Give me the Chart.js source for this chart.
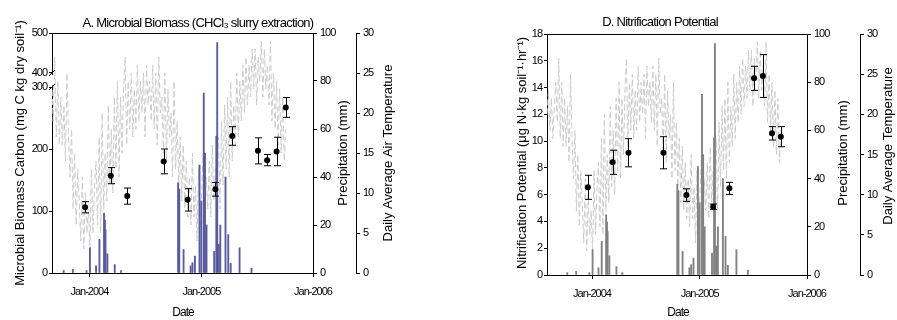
<!DOCTYPE html>
<html>
<head>
<meta charset="utf-8">
<script src="https://cdn.jsdelivr.net/npm/chart.js@4.4.1/dist/chart.umd.min.js"></script>
<style>
  html, body { margin: 0; padding: 0; background: #fff; }
  #wrap { position: relative; width: 897px; height: 320px; }
  canvas { position: absolute; top: 0; }
  #chartA { left: 0; }
  #chartD { left: 448px; }
</style>
</head>
<body>
<div id="wrap">
  <canvas id="chartA" width="448" height="320"></canvas>
  <canvas id="chartD" width="449" height="320"></canvas>
</div>
<script>
// soil sampling dates and measured values
const sampleDates = ["2003-12-18", "2004-03-11", "2004-05-04", "2004-08-31", "2004-11-17",
    "2005-02-16", "2005-04-12", "2005-07-05", "2005-08-04", "2005-09-04", "2005-10-04"];
const biomass = [106, 157, 124, 180, 118, 135, 221, 197, 182, 196, 267];
const biomassErr = [9, 13, 13, 20, 18, 11, 15, 21, 9, 23, 16];
const nitrification = [6.55, 8.42, 9.13, 9.13, 5.97, 5.1, 6.47, 14.69, 14.86, 10.58, 10.33];
const nitrificationErr = [0.9, 0.9, 1.05, 1.2, 0.47, 0.2, 0.45, 0.9, 1.6, 0.5, 0.75];

// daily precipitation (only rainy days shown)
const rainDates = ["2003-10-09", "2003-11-08", "2003-12-23", "2004-01-03", "2004-01-23", "2004-02-03",
    "2004-02-18", "2004-02-21", "2004-02-23", "2004-02-29", "2004-03-24", "2004-04-13",
    "2004-10-17", "2004-10-21", "2004-11-04", "2004-11-27", "2004-12-03", "2004-12-11",
    "2004-12-26", "2005-01-01", "2005-01-09", "2005-01-13", "2005-01-18", "2005-02-12",
    "2005-02-19", "2005-02-22", "2005-02-27", "2005-03-04", "2005-03-21", "2005-03-30",
    "2005-04-07", "2005-05-06", "2005-06-14"];
const rainMm = [1, 1.5, 1, 10.5, 3, 14,
    25, 22, 18, 8, 3.5, 1,
    37.6, 35, 9.8, 3, 4.3, 7,
    45, 30, 75, 50, 20, 9,
    57, 96, 12, 20, 40, 16,
    4, 10.5, 2];

// air temperature, one reading every 5 days from tempStart
const tempStart = "2003-08-01";
const tempStepDays = 5;
const tempC = [
    20, 23, 18, 22, 17, 21,
    24, 19, 27, 17, 24, 16,
    22, 16, 21, 14, 25, 17,
    12, 18, 8, 15, 6, 13,
    9, 4, 12, 3, 10, 5,
    8, 3, 13, 5, 11, 14,
    6, 17, 5, 20, 8, 15,
    9, 21, 11, 18, 10, 22,
    13, 24, 12, 22, 15, 23,
    27, 16, 24, 18, 25, 17,
    23, 18, 26, 19, 24, 20,
    25, 17, 26, 21, 24, 19,
    26, 18, 25, 16, 27, 20,
    22, 15, 25, 14, 23, 17,
    20, 12, 24, 13, 19, 11,
    17, 9, 16, 8, 14, 7,
    12, 6, 15, 7, 11, 4,
    13, 5, 10, 15, 6, 12,
    8, 14, 7, 16, 9, 13,
    10, 17, 8, 19, 11, 21,
    13, 22, 12, 24, 14, 21,
    16, 25, 17, 24, 19, 26,
    20, 27, 21, 26, 22, 28,
    23, 28, 21, 27, 24, 29,
    22, 28, 23, 26, 21, 29,
    19, 25, 18, 24, 16, 23,
    15, 22, 14, 18
];

const yearTicks = ["2004-01-01", "2005-01-01", "2006-01-01"];
const yearLabels = ["Jan-2004", "Jan-2005", "Jan-2006"];
const biomassTicks = [0, 100, 200, 300, 400, 500];

const FONT = 'Arial, "Liberation Sans", sans-serif';
const tickFont = { family: FONT, size: 11 };

function dayNum(s) {
    const p = s.split("-");
    return Date.UTC(+p[0], +p[1] - 1, +p[2]) / 86400000;
}

// left axis of panel A is broken between 300 and 400
function breakValue(v) {
    if (v <= 300) return v;
    return 322.6 + (v - 400) * 0.645;
}

function tempPoints() {
    const t0 = dayNum(tempStart);
    return tempC.map((t, i) => ({ x: t0 + i * tempStepDays, y: t }));
}

function rainPoints() {
    return rainDates.map((d, i) => ({ x: dayNum(d), y: rainMm[i] }));
}

function drawText(ctx, text, x, y, rot, size, spacing) {
    ctx.save();
    ctx.translate(x, y);
    ctx.rotate(rot);
    ctx.font = size + "px " + FONT;
    ctx.letterSpacing = spacing;
    ctx.fillStyle = "#000";
    ctx.textAlign = "center";
    ctx.textBaseline = "middle";
    ctx.fillText(text, 0, 0);
    ctx.restore();
}

const panelPlugin = {
    id: "panel",
    beforeDraw(chart) {
        chart.ctx.letterSpacing = "-1px";
    },
    afterDatasetsDraw(chart, args, o) {
        const ctx = chart.ctx;
        const xs = chart.scales.x;
        const ys = chart.scales.y;
        ctx.save();
        ctx.strokeStyle = "#000";
        ctx.lineWidth = 1;
        sampleDates.forEach((d, i) => {
            const x = Math.round(xs.getPixelForValue(dayNum(d))) + 0.5;
            const top = ys.getPixelForValue(o.values[i] + o.errors[i]);
            const bot = ys.getPixelForValue(o.values[i] - o.errors[i]);
            ctx.beginPath();
            ctx.moveTo(x, top); ctx.lineTo(x, bot);
            ctx.moveTo(x - 3.5, top); ctx.lineTo(x + 3.5, top);
            ctx.moveTo(x - 3.5, bot); ctx.lineTo(x + 3.5, bot);
            ctx.stroke();
        });
        ctx.restore();
    },
    afterDraw(chart, args, o) {
        const ctx = chart.ctx;
        const a = chart.chartArea;
        ctx.save();
        ctx.strokeStyle = "#000";
        ctx.lineWidth = 1;
        ctx.beginPath();
        ctx.moveTo(a.left, Math.round(a.top) + 0.5);
        ctx.lineTo(a.right, Math.round(a.top) + 0.5);
        ctx.stroke();

        if (o.broken) {
            const ys = chart.scales.y;
            const y300 = ys.getPixelForValue(breakValue(300));
            const y400 = ys.getPixelForValue(breakValue(400));
            ctx.fillStyle = "#fff";
            ctx.fillRect(a.left - 2, y400 + 2, 4, y300 - y400 - 4);
            ctx.beginPath();
            [y400, y300].forEach(y => {
                ctx.moveTo(a.left - 3, y + 3);
                ctx.lineTo(a.left + 3, y - 3);
            });
            ctx.stroke();
        }
        ctx.restore();

        drawText(ctx, o.title, o.titleX, o.titleY, 0, 13, "-0.75px");
        drawText(ctx, "Date", o.dateX, 313, 0, 12, "-1px");
        drawText(ctx, o.leftTitle, o.leftX, 153, -Math.PI / 2, 13, "0px");
        drawText(ctx, "Precipitation (mm)", o.rainX, 153, -Math.PI / 2, 13, "0px");
        drawText(ctx, o.tempTitle, o.tempX, o.tempY, -Math.PI / 2, 13, "0px");
    }
};

function rightAxes(rainWidth, tempWidth) {
    return {
        y1: {
            position: "right", min: 0, max: 100,
            afterFit: s => { s.width = rainWidth; },
            ticks: { stepSize: 20, font: tickFont, color: "#000", padding: 3 },
            grid: { drawOnChartArea: false, tickLength: 4, color: "#000" },
            border: { color: "#000" }
        },
        y2: {
            position: "right", min: 0, max: 30,
            afterFit: s => { s.width = tempWidth; },
            ticks: { stepSize: 5, font: tickFont, color: "#000", padding: 3 },
            grid: { drawOnChartArea: false, tickLength: 4, color: "#000" },
            border: { color: "#000" }
        }
    };
}

function xAxis(start, height) {
    return {
        type: "linear", min: dayNum(start), max: dayNum("2006-01-01"), offset: false,
        afterBuildTicks: s => { s.ticks = yearTicks.map(d => ({ value: dayNum(d) })); },
        afterFit: s => { s.height = height; },
        ticks: {
            autoSkip: false, maxRotation: 0, font: tickFont, color: "#000", padding: 8,
            callback: (v, i) => yearLabels[i]
        },
        grid: { drawOnChartArea: false, tickLength: 4, color: "#000", offset: false },
        border: { color: "#000" }
    };
}

function makeDatasets(values, barColor) {
    return [
        {
            type: "line",
            label: "Daily Average Temperature",
            data: tempPoints(),
            yAxisID: "y2",
            borderColor: "#cbcbcb",
            borderWidth: 1,
            borderDash: [6, 3],
            pointRadius: 0,
            tension: 0,
            order: 3
        },
        {
            type: "bar",
            label: "Precipitation",
            data: rainPoints(),
            yAxisID: "y1",
            backgroundColor: barColor,
            barThickness: 1.2,
            grouped: false,
            order: 2
        },
        {
            type: "line",
            label: "Soil",
            data: sampleDates.map((d, i) => ({ x: dayNum(d), y: values[i] })),
            yAxisID: "y",
            showLine: false,
            pointRadius: 3,
            pointBackgroundColor: "#000",
            pointBorderColor: "#000",
            pointBorderWidth: 0,
            order: 1
        }
    ];
}

new Chart(document.getElementById("chartA"), {
    type: "line",
    data: { datasets: makeDatasets(biomass, "#5a5a9e") },
    options: {
        responsive: false,
        animation: false,
        events: [],
        layout: { padding: { top: 33, left: 0, right: 0, bottom: 0 } },
        plugins: {
            legend: { display: false },
            tooltip: { enabled: false },
            panel: {
                values: biomass, errors: biomassErr, broken: true,
                title: "A. Microbial Biomass (CHCl\u2083 slurry extraction)", titleX: 198, titleY: 23,
                dateX: 183,
                leftTitle: "Microbial Biomass Carbon (mg C kg dry soil\u207B\u00B9)", leftX: 20,
                rainX: 343,
                tempTitle: "Daily Average Air Temperature", tempX: 388, tempY: 153
            }
        },
        scales: Object.assign({
            x: xAxis("2003-09-01", 47),
            y: {
                position: "left", min: 0, max: breakValue(500),
                afterBuildTicks: s => { s.ticks = biomassTicks.map(v => ({ value: breakValue(v) })); },
                afterFit: s => { s.width = 52; },
                ticks: {
                    autoSkip: false, font: tickFont, color: "#000", padding: 2,
                    callback: (v, i) => String(biomassTicks[i])
                },
                grid: { drawOnChartArea: false, tickLength: 3, color: "#000" },
                border: { color: "#000" }
            }
        }, rightAxes(43, 92))
    },
    plugins: [panelPlugin]
});

new Chart(document.getElementById("chartD"), {
    type: "line",
    data: { datasets: makeDatasets(nitrification, "#808080") },
    options: {
        responsive: false,
        animation: false,
        events: [],
        layout: { padding: { top: 34, left: 0, right: 0, bottom: 0 } },
        plugins: {
            legend: { display: false },
            tooltip: { enabled: false },
            panel: {
                values: nitrification, errors: nitrificationErr, broken: false,
                title: "D. Nitrification Potential", titleX: 212, titleY: 22,
                dateX: 230,
                leftTitle: "Nitrification Potential (\u03BCg N\u00B7kg soil\u207B\u00B9\u00B7hr\u207B\u00B9)", leftX: 74,
                rainX: 395,
                tempTitle: "Daily Average Temperature", tempX: 440, tempY: 146
            }
        },
        scales: Object.assign({
            x: xAxis("2003-08-01", 45),
            y: {
                position: "left", min: 0, max: 18,
                afterFit: s => { s.width = 99; },
                ticks: { stepSize: 2, autoSkip: false, font: tickFont, color: "#000", padding: 2 },
                grid: { drawOnChartArea: false, tickLength: 3, color: "#000" },
                border: { color: "#000" }
            }
        }, rightAxes(53, 37))
    },
    plugins: [panelPlugin]
});
</script>
</body>
</html>
